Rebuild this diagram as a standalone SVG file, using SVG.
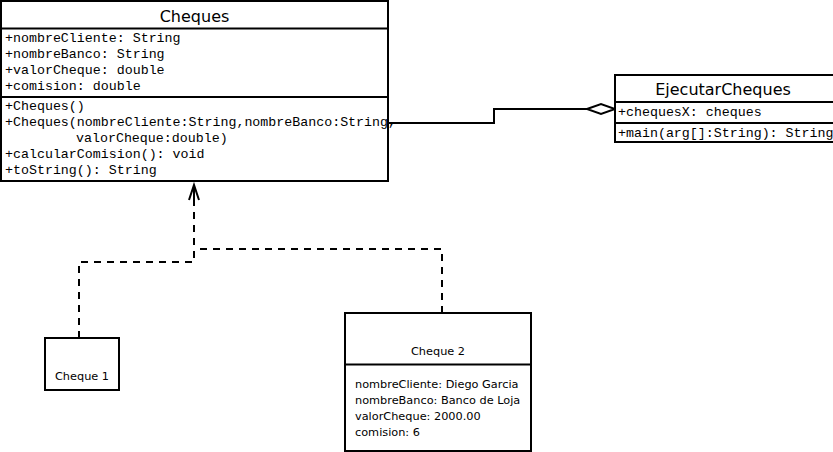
<svg xmlns="http://www.w3.org/2000/svg" width="833" height="452" viewBox="0 0 833 452">
  <style>
    .box { fill: #ffffff; stroke: #000000; stroke-width: 2; }
    .div { stroke: #000000; stroke-width: 2; }
    .title { font-family: "DejaVu Sans", sans-serif; font-size: 16px; fill: #000000; text-anchor: middle; }
    .mono { font-family: "Liberation Mono", "DejaVu Sans Mono", monospace; font-size: 13.3px; fill: #000000; }
    .obj { font-family: "DejaVu Sans", sans-serif; font-size: 11.3px; fill: #000000; }
    .line { fill: none; stroke: #000000; stroke-width: 2; }
    .dash { fill: none; stroke: #000000; stroke-width: 2; stroke-dasharray: 7 6; }
  </style>
  <defs>
    <marker id="open-arrow" markerUnits="userSpaceOnUse" markerWidth="14" markerHeight="20" refX="7" refY="1" orient="auto-start-reverse" viewBox="0 0 14 20">
      <path d="M2,17 L7,1 L12,17" fill="none" stroke="#000000" stroke-width="2"/>
    </marker>
  </defs>
  <rect width="833" height="452" fill="#ffffff"/>

  <!-- connectors -->
  <g id="connectors">
    <!-- aggregation: EjecutarCheques holds Cheques -->
    <polyline class="line" points="388,123 494,123 494,109 588,109"/>
    <polygon points="587,109 601,104 615,109 601,114" fill="#ffffff" stroke="#000000" stroke-width="2"/>
    <!-- instance-of dependencies -->
    <polyline class="dash" points="79,338 79,262 194,262 194,200"/>
    <polyline class="dash" points="442,313 442,249 194,249"/>
    <line class="line" x1="194" y1="200" x2="194" y2="186"/>
    <path d="M189,200 L194,185 L199,200" fill="none" stroke="#000000" stroke-width="2"/>
  </g>

  <!-- class Cheques -->
  <g id="cheques">
    <rect class="box" x="1" y="1" width="387" height="180"/>
    <line class="div" x1="1" y1="28.5" x2="388" y2="28.5"/>
    <line class="div" x1="1" y1="97" x2="388" y2="97"/>
    <text class="title" x="194.5" y="22">Cheques</text>
    <text class="mono" x="5" y="42">+nombreCliente: String</text>
    <text class="mono" x="5" y="58">+nombreBanco: String</text>
    <text class="mono" x="5" y="74">+valorCheque: double</text>
    <text class="mono" x="5" y="90">+comision: double</text>
    <text class="mono" x="5" y="110">+Cheques()</text>
    <text class="mono" x="5" y="126">+Cheques(nombreCliente:String,nombreBanco:String,</text>
    <text class="mono" x="76" y="142">valorCheque:double)</text>
    <text class="mono" x="5" y="158">+calcularComision(): void</text>
    <text class="mono" x="5" y="174">+toString(): String</text>
  </g>

  <!-- class EjecutarCheques -->
  <g id="ejecutar-cheques">
    <rect class="box" x="615" y="75" width="230" height="67"/>
    <line class="div" x1="615" y1="102" x2="845" y2="102"/>
    <line class="div" x1="615" y1="123" x2="845" y2="123"/>
    <text class="title" x="723" y="95">EjecutarCheques</text>
    <text class="mono" x="618" y="116">+chequesX: cheques</text>
    <text class="mono" x="618" y="137">+main(arg[]:String): String</text>
  </g>

  <!-- object Cheque 1 -->
  <g id="cheque1">
    <rect class="box" x="45" y="338" width="74" height="52"/>
    <text class="obj" x="82" y="380" text-anchor="middle">Cheque 1</text>
  </g>

  <!-- object Cheque 2 -->
  <g id="cheque2">
    <rect class="box" x="345" y="313" width="186" height="138"/>
    <line class="div" x1="345" y1="364.5" x2="531" y2="364.5"/>
    <text class="obj" x="438" y="355" text-anchor="middle">Cheque 2</text>
    <text class="obj" x="355" y="388">nombreCliente: Diego Garcia</text>
    <text class="obj" x="355" y="404">nombreBanco: Banco de Loja</text>
    <text class="obj" x="355" y="420">valorCheque: 2000.00</text>
    <text class="obj" x="355" y="436">comision: 6</text>
  </g>
</svg>
